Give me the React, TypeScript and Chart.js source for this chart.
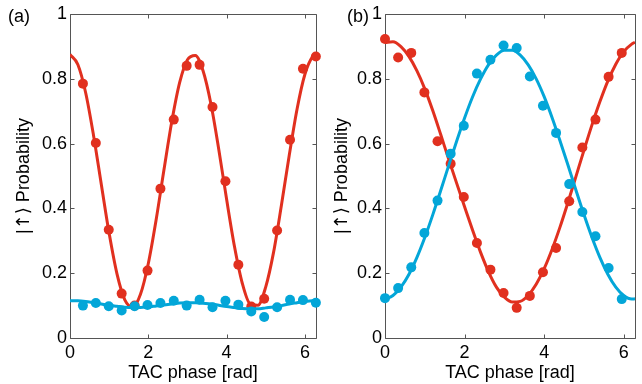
import React, { useEffect, useRef } from "react";
import { Chart, registerables } from "chart.js";

Chart.register(...registerables);

// ---- data ----
const xTickValues = [0, 2, 4, 6];
const xTickLabels = ["0", "2", "4", "6"];
const yTickValues = [0, 0.2, 0.4, 0.6, 0.8, 1];
const yTickLabels = ["0", "0.2", "0.4", "0.6", "0.8", "1"];

// panel (a) measured points
const phaseA = [0.33, 0.66, 0.99, 1.32, 1.65, 1.98, 2.31, 2.65, 2.98, 3.31, 3.64, 3.97, 4.30, 4.63, 4.96, 5.29, 5.62, 5.95, 6.28];
const redA = [0.785, 0.602, 0.334, 0.137, 0.100, 0.208, 0.461, 0.674, 0.840, 0.843, 0.713, 0.484, 0.226, 0.097, 0.121, 0.332, 0.612, 0.831, 0.869];
const blueA = [0.100, 0.108, 0.098, 0.085, 0.098, 0.102, 0.108, 0.115, 0.100, 0.118, 0.095, 0.115, 0.103, 0.082, 0.065, 0.095, 0.118, 0.117, 0.109];

// panel (b) measured points
const phaseB = [0, 0.33, 0.66, 0.99, 1.32, 1.65, 1.98, 2.31, 2.65, 2.98, 3.31, 3.64, 3.97, 4.30, 4.63, 4.96, 5.29, 5.62, 5.95];
const redB = [0.923, 0.866, 0.880, 0.758, 0.607, 0.538, 0.435, 0.293, 0.211, 0.139, 0.093, 0.130, 0.203, 0.278, 0.422, 0.588, 0.674, 0.806, 0.880];
const blueB = [0.123, 0.154, 0.218, 0.324, 0.424, 0.569, 0.655, 0.816, 0.859, 0.903, 0.895, 0.807, 0.717, 0.633, 0.475, 0.389, 0.314, 0.216, 0.120];

// fitted curves
const fitPhase = [0, 0.2, 0.4, 0.6, 0.8, 1.0, 1.2, 1.4, 1.6, 1.8, 2.0, 2.2, 2.4, 2.6, 2.8, 3.0, 3.2, 3.4, 3.6, 3.8, 4.0, 4.2, 4.4, 4.6, 4.8, 5.0, 5.2, 5.4, 5.6, 5.8, 6.0, 6.2, 6.283];
const fitRedA = [0.875, 0.844, 0.757, 0.626, 0.474, 0.323, 0.198, 0.118, 0.096, 0.135, 0.230, 0.365, 0.519, 0.668, 0.788, 0.859, 0.872, 0.824, 0.722, 0.582, 0.428, 0.283, 0.169, 0.105, 0.101, 0.158, 0.265, 0.410, 0.564, 0.707, 0.814, 0.869, 0.875];
const fitBlueA = [0.115, 0.115, 0.113, 0.109, 0.105, 0.101, 0.098, 0.095, 0.094, 0.094, 0.096, 0.099, 0.102, 0.105, 0.108, 0.109, 0.109, 0.107, 0.105, 0.101, 0.097, 0.094, 0.091, 0.090, 0.090, 0.093, 0.096, 0.100, 0.105, 0.109, 0.113, 0.115, 0.115];
const fitRedB = [0.912, 0.914, 0.899, 0.869, 0.825, 0.769, 0.702, 0.628, 0.552, 0.478, 0.405, 0.333, 0.265, 0.205, 0.157, 0.126, 0.111, 0.113, 0.132, 0.166, 0.214, 0.274, 0.343, 0.419, 0.499, 0.579, 0.657, 0.729, 0.793, 0.845, 0.884, 0.907, 0.913];
const fitBlueB = [0.120, 0.131, 0.157, 0.196, 0.248, 0.310, 0.380, 0.455, 0.532, 0.607, 0.679, 0.744, 0.799, 0.843, 0.873, 0.888, 0.888, 0.873, 0.843, 0.800, 0.745, 0.680, 0.608, 0.533, 0.456, 0.381, 0.311, 0.249, 0.197, 0.157, 0.131, 0.120, 0.121];

const panelLabels = ["(a)", "(b)"];
const xTitle = "TAC phase [rad]";
const yTitleKet = ["|", "\u2191", "\u27E9"];
const yTitleWord = " Probability";
const xMax = 6.2832;

const RED = "#E1301F";
const BLUE = "#03A6D8";
const FRAME = "#555555";
const FONT = '"Liberation Sans", Arial, Helvetica, sans-serif';
const SYM_FONT = '"DejaVu Sans", "Liberation Sans", sans-serif';

const toXY = (xs: number[], ys: number[]) => xs.map((x, i) => ({ x, y: ys[i] }));

type PanelProps = {
  label: string;
  phase: number[];
  red: number[];
  blue: number[];
  fitRed: number[];
  fitBlue: number[];
  left: number;
  width: number;
  axisWidth: number;
  padRight: number;
  labelX: number;
};

const framePlugin = {
  id: "frameTicks",
  beforeDatasetsDraw(chart: any) {
    const { ctx, chartArea } = chart;
    const xs = chart.scales.x;
    const ys = chart.scales.y;
    const l = Math.round(chartArea.left) + 0.5;
    const r = Math.round(chartArea.right) + 0.5;
    const t = Math.round(chartArea.top) + 0.5;
    const b = Math.round(chartArea.bottom) + 0.5;
    const len = 4;
    ctx.save();
    ctx.strokeStyle = FRAME;
    ctx.lineWidth = 1;
    ctx.beginPath();
    ctx.rect(l, t, r - l, b - t);
    xTickValues.forEach((v) => {
      const px = Math.round(xs.getPixelForValue(v)) + 0.5;
      ctx.moveTo(px, b);
      ctx.lineTo(px, b - len);
      ctx.moveTo(px, t);
      ctx.lineTo(px, t + len);
    });
    yTickValues.forEach((v) => {
      const py = Math.round(ys.getPixelForValue(v)) + 0.5;
      ctx.moveTo(l, py);
      ctx.lineTo(l + len, py);
      ctx.moveTo(r, py);
      ctx.lineTo(r - len, py);
    });
    ctx.stroke();
    ctx.restore();
  },
  afterDraw(chart: any, _args: any, opts: any) {
    const { ctx, chartArea } = chart;
    ctx.save();
    ctx.fillStyle = "#000";
    ctx.font = `18px ${FONT}`;
    ctx.textBaseline = "alphabetic";
    ctx.textAlign = "left";
    ctx.fillText(opts.label, opts.x, 22);

    // rotated y-axis title with mixed fonts for the ket symbol
    const pieces = [
      { t: yTitleKet[0], f: `18px ${FONT}` },
      { t: yTitleKet[1], f: `18px ${SYM_FONT}` },
      { t: yTitleKet[2], f: `18px ${SYM_FONT}` },
      { t: yTitleWord, f: `18px ${FONT}` },
    ];
    let total = 0;
    const widths = pieces.map((pc) => {
      ctx.font = pc.f;
      const w = ctx.measureText(pc.t).width;
      total += w;
      return w;
    });
    const cy = (chartArea.top + chartArea.bottom) / 2;
    ctx.translate(opts.titleX, cy);
    ctx.rotate(-Math.PI / 2);
    ctx.textBaseline = "alphabetic";
    let x = -total / 2;
    pieces.forEach((pc, i) => {
      ctx.font = pc.f;
      ctx.fillText(pc.t, x, 0);
      x += widths[i];
    });
    ctx.restore();
  },
};

function Panel(p: PanelProps) {
  const ref = useRef<HTMLCanvasElement | null>(null);
  useEffect(() => {
    if (!ref.current) return;
    const chart = new Chart(ref.current, {
      type: "scatter",
      data: {
        datasets: [
          {
            data: toXY(p.phase, p.blue),
            showLine: false,
            pointRadius: 5,
            pointBorderWidth: 0,
            pointBackgroundColor: BLUE,
            backgroundColor: BLUE,
            borderColor: BLUE,
            clip: false,
          },
          {
            data: toXY(fitPhase, p.fitBlue),
            showLine: true,
            pointRadius: 0,
            borderWidth: 3,
            borderColor: BLUE,
            cubicInterpolationMode: "monotone",
          },
          {
            data: toXY(p.phase, p.red),
            showLine: false,
            pointRadius: 5,
            pointBorderWidth: 0,
            pointBackgroundColor: RED,
            backgroundColor: RED,
            borderColor: RED,
            clip: false,
          },
          {
            data: toXY(fitPhase, p.fitRed),
            showLine: true,
            pointRadius: 0,
            borderWidth: 3,
            borderColor: RED,
            cubicInterpolationMode: "monotone",
          },
        ] as any,
      },
      options: {
        responsive: false,
        animation: false,
        events: [],
        layout: { padding: { top: 14, right: p.padRight, left: 0, bottom: 0 } },
        plugins: {
          legend: { display: false },
          tooltip: { enabled: false },
          frameTicks: { label: p.label, x: p.labelX, titleX: 29 },
        } as any,
        scales: {
          x: {
            type: "linear",
            min: 0,
            max: xMax,
            grid: { display: false, drawTicks: false },
            border: { display: false },
            afterBuildTicks: (s: any) => {
              s.ticks = xTickValues.map((v) => ({ value: v }));
            },
            afterFit: (s: any) => {
              s.height = 46;
            },
            ticks: {
              padding: 4,
              color: "#000",
              font: { family: FONT, size: 18 },
              maxRotation: 0,
              callback: (v: any) => xTickLabels[xTickValues.indexOf(Number(v))] ?? "",
            },
            title: {
              display: true,
              text: xTitle,
              color: "#000",
              font: { family: FONT, size: 18 },
              padding: { top: 0, bottom: 0 },
            },
          },
          y: {
            type: "linear",
            min: 0,
            max: 1,
            grid: { display: false, drawTicks: false },
            border: { display: false },
            afterBuildTicks: (s: any) => {
              s.ticks = yTickValues.map((v) => ({ value: v }));
            },
            afterFit: (s: any) => {
              s.width = p.axisWidth;
            },
            ticks: {
              padding: 3,
              color: "#000",
              font: { family: FONT, size: 18 },
              callback: (v: any) => {
                const i = yTickValues.findIndex((t) => Math.abs(t - Number(v)) < 1e-6);
                return i >= 0 ? yTickLabels[i] : "";
              },
            },
            title: { display: false },
          },
        },
      },
      plugins: [framePlugin as any],
    });
    return () => chart.destroy();
  }, []);
  return (
    <canvas
      ref={ref}
      width={p.width}
      height={384}
      style={{ position: "absolute", left: p.left, top: 0, width: p.width, height: 384 }}
    />
  );
}

export default function App() {
  return (
    <div
      style={{
        position: "fixed",
        left: 0,
        top: 0,
        width: 642,
        height: 384,
        background: "#fff",
        overflow: "hidden",
      }}
    >
      <Panel
        label={panelLabels[0]}
        phase={phaseA}
        red={redA}
        blue={blueA}
        fitRed={fitRedA}
        fitBlue={fitBlueA}
        left={0}
        width={321}
        axisWidth={70}
        padRight={3}
        labelX={8}
      />
      <Panel
        label={panelLabels[1]}
        phase={phaseB}
        red={redB}
        blue={blueB}
        fitRed={fitRedB}
        fitBlue={fitBlueB}
        left={318}
        width={324}
        axisWidth={67}
        padRight={7}
        labelX={29}
      />
    </div>
  );
}
